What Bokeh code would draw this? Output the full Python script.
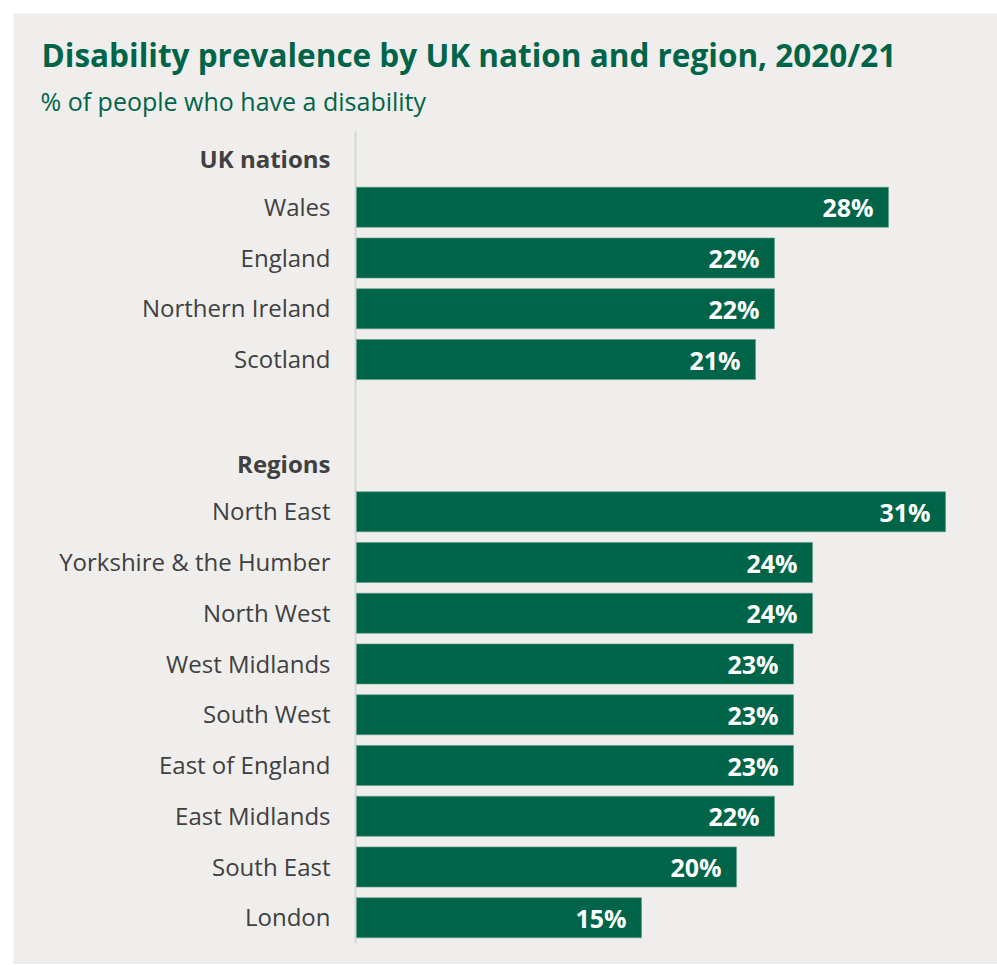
from bokeh.plotting import figure
from bokeh.models import Range1d, Label, ColumnDataSource
from bokeh.embed import file_html
from bokeh.resources import INLINE
from bokeh.core.properties import value

title_text = "Disability prevalence by UK nation and region, 2020/21"
subtitle_text = "% of people who have a disability"

group_names = ["UK nations", "Regions"]
nations = ["Wales", "England", "Northern Ireland", "Scotland"]
nation_values = [28, 22, 22, 21]
regions = ["North East", "Yorkshire & the Humber", "North West", "West Midlands",
           "South West", "East of England", "East Midlands", "South East", "London"]
region_values = [31, 24, 24, 23, 23, 23, 22, 20, 15]

GREEN = "#006548"
BG = "#efeeec"
LABEL = "#404040"

# build slot positions: header, items, blank, header, items
cats, vals, ys = [], [], []
head_y = []
slot = 0
for gi, (names, values) in enumerate([(nations, nation_values), (regions, region_values)]):
    if gi > 0:
        slot += 1  # blank row
    head_y.append(slot)
    slot += 1
    for n, v in zip(names, values):
        cats.append(n)
        vals.append(v)
        ys.append(slot)
        slot += 1
n_slots = slot

src = ColumnDataSource(dict(cat=cats, val=vals, y=ys,
                            lab=[f"{v}%" for v in vals]))
hsrc = ColumnDataSource(dict(name=group_names, y=head_y))

W, H = 984, 951
px_per_unit = 19.0
x0_px = 343.0
row_px = 50.75
first_row_px = 143.0  # from top of frame

p = figure(width=W, height=H, output_backend="svg", toolbar_location=None,
           x_range=Range1d(-x0_px / px_per_unit, (W - x0_px) / px_per_unit),
           y_range=Range1d((H - first_row_px) / row_px, -first_row_px / row_px),
           min_border=0, min_border_left=0, min_border_right=0,
           min_border_top=0, min_border_bottom=0)
p.margin = (13, 0, 0, 13)
p.axis.visible = False
p.grid.visible = False
p.outline_line_color = None
p.background_fill_color = BG
p.border_fill_color = BG

# axis line
p.segment(x0=[-0.05], x1=[-0.05], y0=[-0.5], y1=[n_slots - 0.5],
          line_color="#d6d6d4", line_width=2)

p.hbar(y="y", right="val", left=0, height=0.79, source=src,
       fill_color=GREEN, line_color="#5f9c88", line_width=1, line_alpha=0.6)

p.text(x=0, y="y", text="cat", source=src, x_offset=-26, y_offset=-1,
       text_align="right", text_baseline="middle",
       text_font=value("Open Sans"), text_font_size="24px", text_color=LABEL)

p.text(x=0, y="y", text="name", source=hsrc, x_offset=-26, y_offset=2,
       text_align="right", text_baseline="middle",
       text_font=value("Open Sans"), text_font_style="bold",
       text_font_size="24px", text_color=LABEL)

p.text(x="val", y="y", text="lab", source=src, x_offset=-15, y_offset=0,
       text_align="right", text_baseline="middle",
       text_font=value("Open Sans"), text_font_style="bold",
       text_font_size="25px", text_color="white")

p.add_layout(Label(x=28, y=H - 41, x_units="screen", y_units="screen",
                   text=title_text, text_font="Open Sans", text_font_style="bold",
                   text_font_size="31.5px", text_color=GREEN, text_baseline="middle"))
p.add_layout(Label(x=27, y=H - 87, x_units="screen", y_units="screen",
                   text=subtitle_text, text_font="Open Sans",
                   text_font_size="25px", text_color=GREEN, text_baseline="middle"))

open("out.html", "w").write(file_html(p, INLINE))
